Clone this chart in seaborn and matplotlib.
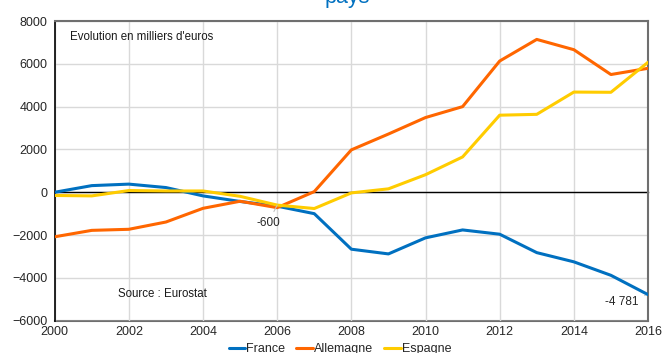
import matplotlib
matplotlib.use("Agg")
import matplotlib.pyplot as plt
import seaborn as sns
import pandas as pd

years = list(range(2000, 2017))
france = [0, 310, 380, 220, -170, -430, -650, -1000, -2660, -2880, -2130, -1760, -1960, -2820, -3250, -3880, -4781]
allemagne = [-2080, -1780, -1730, -1390, -750, -420, -720, 30, 1980, 2720, 3490, 4000, 6130, 7140, 6660, 5500, 5790]
espagne = [-150, -170, 80, 60, 60, -190, -600, -760, -30, 160, 820, 1650, 3600, 3640, 4680, 4670, 6070]
series_names = ["France", "Allemagne", "Espagne"]
colors = {"France": "#0070C0", "Allemagne": "#FF6600", "Espagne": "#FFCC00"}
yticks = list(range(-6000, 8001, 2000))
xticks = list(range(2000, 2017, 2))

df = pd.DataFrame({
    "annee": years * 3,
    "valeur": france + allemagne + espagne,
    "pays": sum([[n] * len(years) for n in series_names], []),
})

sns.set_style("white")
plt.rcParams["font.family"] = ["Liberation Sans", "DejaVu Sans"]

fig = plt.figure(figsize=(6.63, 3.53), dpi=100)
ax = fig.add_axes([54.7 / 663, 1 - 320.7 / 353, (648 - 54.7) / 663, (320.7 - 21) / 353])

sns.lineplot(data=df, x="annee", y="valeur", hue="pays", hue_order=series_names,
             palette=colors, linewidth=2.2, ax=ax, legend=True, zorder=3)

ax.set_xlim(2000, 2016)
ax.set_ylim(-6000, 8000)
ax.set_xticks(xticks)
ax.set_yticks(yticks)
ax.set_xlabel("")
ax.set_ylabel("")
ax.grid(True, color="#D9D9D9", linewidth=1.0, zorder=0)
ax.set_axisbelow(True)

# zero axis with tick marks
ax.spines["bottom"].set_position(("data", 0))
ax.spines["bottom"].set_color("black")
ax.spines["bottom"].set_linewidth(1.0)
ax.spines["bottom"].set_zorder(2)
ax.tick_params(axis="x", direction="out", length=3.5, width=0.8, color="#404040",
               labelbottom=False)
ax.tick_params(axis="y", direction="out", length=3, width=0.8, color="black",
               labelsize=9, pad=2)
ax.spines["left"].set_color("black")
ax.spines["left"].set_linewidth(1.2)
for s in ["top", "right"]:
    ax.spines[s].set_color("#6F6F6F")
    ax.spines[s].set_linewidth(1.5)

sec = ax.secondary_xaxis("bottom")
sec.set_xticks(xticks)
sec.tick_params(length=0, labelsize=9, pad=3.5)
sec.spines["bottom"].set_color("#6F6F6F")
sec.spines["bottom"].set_linewidth(1.5)

ax.text(0.025, 0.945, "Evolution en milliers d'euros", transform=ax.transAxes,
        fontsize=8.3, va="center", ha="left", color="#1A1A1A")
ax.text(0.107, 0.088, "Source : Eurostat", transform=ax.transAxes,
        fontsize=8.3, va="center", ha="left", color="#1A1A1A")

ax.annotate("-600", xy=(2006, espagne[6]), xytext=(-6.7, -13.1), textcoords="offset points",
            ha="center", va="center", fontsize=8.5,
            arrowprops=dict(arrowstyle="-", color="#BFBFBF", lw=0.8, shrinkA=2, shrinkB=0))
ax.annotate("-4 781", xy=(2016, france[-1]), xytext=(-18.7, -5.5), textcoords="offset points",
            ha="center", va="center", fontsize=8.5,
            arrowprops=dict(arrowstyle="-", color="#BFBFBF", lw=0.8, shrinkA=2, shrinkB=2))

fig.text(347 / 663, 1 - 2.5 / 353, "pays", color="#0070C0", fontsize=15.5,
         ha="center", va="baseline")

handles, labels = ax.get_legend_handles_labels()
ax.get_legend().remove()
fig.legend(handles, labels, loc="center", bbox_to_anchor=(340 / 663, 1 - 349 / 353),
           ncol=3, frameon=False, fontsize=9, handlelength=1.3, handletextpad=0.1,
           columnspacing=0.9, borderaxespad=0, borderpad=0)

fig.savefig("out.png", dpi=100)
